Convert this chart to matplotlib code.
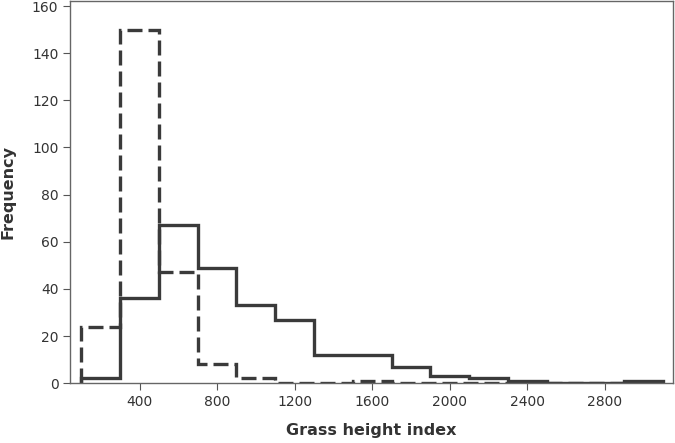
import numpy as np
import matplotlib
matplotlib.use('Agg')
import matplotlib.pyplot as plt

# bin edges shared by both histograms
bin_edges = np.arange(100, 3101, 200)
solid_counts = [2, 36, 67, 49, 33, 27, 12, 12, 7, 3, 2, 1, 0, 0, 1]
dashed_counts = [24, 150, 47, 8, 2, 0, 0, 1, 0, 0, 0, 0, 0, 0, 0]
x_ticks = [400, 800, 1200, 1600, 2000, 2400, 2800]
y_ticks = [0, 20, 40, 60, 80, 100, 120, 140, 160]

line_col = '#3a3a3a'
plt.rcParams['font.family'] = ['DejaVu Sans']

fig = plt.figure(figsize=(6.75, 4.43), dpi=100)
ax = fig.add_axes([0.104, 0.135, 0.893, 0.862])

ax.hist(bin_edges[:-1], bins=bin_edges, weights=solid_counts, histtype='step',
        color=line_col, linewidth=2.4)
ax.hist(bin_edges[:-1], bins=bin_edges, weights=dashed_counts, histtype='step',
        color=line_col, linewidth=2.4, linestyle=(0, (4.5, 1.8)))

ax.set_xlim(42, 3152)
ax.set_ylim(0, 162)
ax.set_xticks(x_ticks)
ax.set_yticks(y_ticks)
ax.tick_params(direction='out', length=5, width=0.8, color='#555555',
               labelsize=10, labelcolor='#333333')
for s in ax.spines.values():
    s.set_color('#666666')
    s.set_linewidth(1.0)

ax.set_xlabel('Grass height index', fontsize=11.5, fontweight='bold', color='#333333', labelpad=10)
ax.set_ylabel('Frequency', fontsize=11.5, fontweight='bold', color='#333333', labelpad=12)

fig.savefig('out.png', dpi=100)
